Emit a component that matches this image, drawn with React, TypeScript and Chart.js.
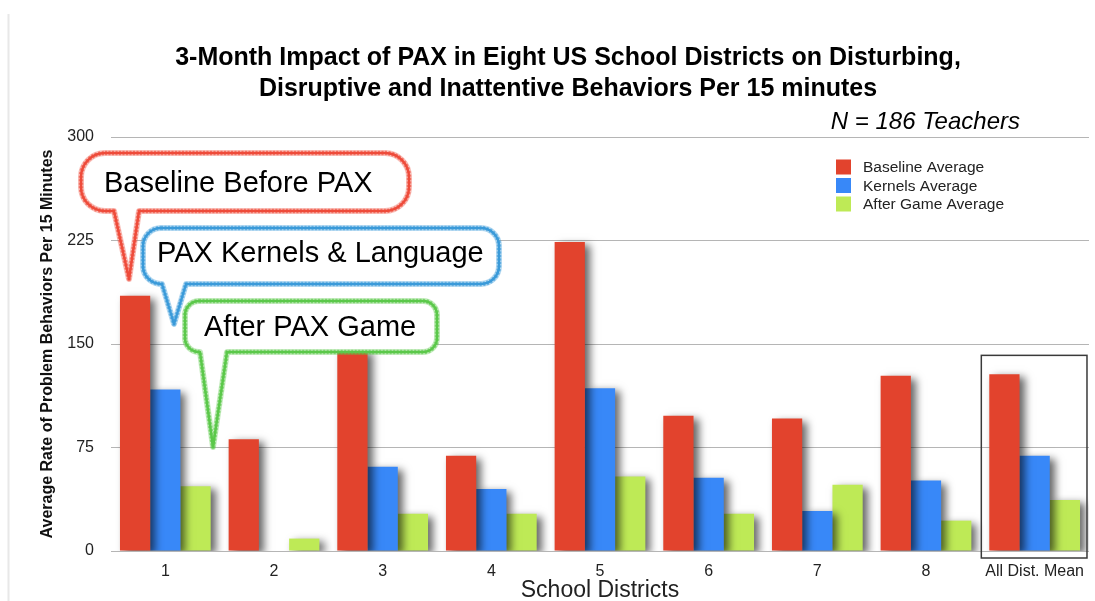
import React, { useEffect, useRef } from 'react';
import { Chart, registerables } from 'chart.js';

Chart.register(...registerables);

const FF = '"Liberation Sans", Arial, Helvetica, sans-serif';

const categories = ['1', '2', '3', '4', '5', '6', '7', '8', 'All Dist. Mean'];
const baselineAvg = [185, 81, 146, 69, 224, 98, 96, 127, 128];
const kernelsAvg = [117, 0, 61, 45, 118, 53, 29, 51, 69];
const afterGameAvg = [47, 9, 27, 27, 54, 27, 48, 22, 37];
const seriesNames = ['Baseline Average', 'Kernels Average', 'After Game Average'];
const seriesColors = ['#E2432D', '#3888F8', '#BEEA56'];
const yMin = 0;
const yMax = 300;
const yStep = 75;

const titleLines = [
  '3-Month Impact of PAX in Eight US School Districts on Disturbing,',
  'Disruptive and Inattentive Behaviors Per 15 minutes',
];
const subtitleText = 'N = 186 Teachers';
const yTitle = 'Average Rate of Problem Behaviors Per 15 Minutes';
const xTitle = 'School Districts';
const callouts = [
  { text: 'Baseline Before PAX', color: '#EE4B3A' },
  { text: 'PAX Kernels & Language', color: '#3A9AD9' },
  { text: 'After PAX Game', color: '#5BC84A' },
];

function bubblePath(
  ctx: CanvasRenderingContext2D,
  x1: number, y1: number, x2: number, y2: number, r: number,
  bl: number, br: number, tx: number, ty: number
) {
  ctx.beginPath();
  ctx.moveTo(x1 + r, y1);
  ctx.lineTo(x2 - r, y1);
  ctx.arcTo(x2, y1, x2, y1 + r, r);
  ctx.lineTo(x2, y2 - r);
  ctx.arcTo(x2, y2, x2 - r, y2, r);
  ctx.lineTo(br, y2);
  ctx.lineTo(tx, ty);
  ctx.lineTo(bl, y2);
  ctx.lineTo(x1 + r, y2);
  ctx.arcTo(x1, y2, x1, y2 - r, r);
  ctx.lineTo(x1, y1 + r);
  ctx.arcTo(x1, y1, x1 + r, y1, r);
  ctx.closePath();
}

function drawBubble(ctx: CanvasRenderingContext2D, geo: number[], color: string, text: string, tx: number, ty: number) {
  const [x1, y1, x2, y2, r, bl, br, px, py] = geo;
  ctx.save();
  bubblePath(ctx, x1, y1, x2, y2, r, bl, br, px, py);
  ctx.fillStyle = '#ffffff';
  ctx.fill();
  ctx.lineJoin = 'round';
  ctx.strokeStyle = color;
  ctx.globalAlpha = 0.35;
  ctx.lineWidth = 6;
  ctx.stroke();
  ctx.globalAlpha = 0.6;
  ctx.lineWidth = 4.5;
  ctx.setLineDash([2, 1.5]);
  ctx.stroke();
  ctx.setLineDash([]);
  ctx.globalAlpha = 1;
  ctx.lineWidth = 2.5;
  ctx.stroke();
  ctx.fillStyle = '#000';
  ctx.font = `29px ${FF}`;
  ctx.textAlign = 'left';
  ctx.textBaseline = 'alphabetic';
  ctx.fillText(text, tx, ty);
  ctx.restore();
}

const decorPlugin = {
  id: 'decor',
  beforeDatasetsDraw(chart: any) {
    const ctx = chart.ctx as CanvasRenderingContext2D;
    ctx.save();
    ctx.shadowColor = 'rgba(0,0,0,0.6)';
    ctx.shadowBlur = 8;
    ctx.shadowOffsetX = 5;
    ctx.shadowOffsetY = 3;
  },
  afterDatasetsDraw(chart: any) {
    const ctx = chart.ctx as CanvasRenderingContext2D;
    ctx.restore();
    const xs = chart.scales.x;
    const ys = chart.scales.y;

    // left frame line
    ctx.save();
    ctx.strokeStyle = '#e8e8e8';
    ctx.lineWidth = 2;
    ctx.beginPath();
    ctx.moveTo(8.5, 14);
    ctx.lineTo(8.5, 601);
    ctx.stroke();
    ctx.restore();

    // box around the mean group
    const last = categories.length - 1;
    const cw = xs.getPixelForValue(1) - xs.getPixelForValue(0);
    const cx = xs.getPixelForValue(last);
    const bx1 = cx - cw / 2 + 1;
    const bx2 = cx + cw / 2 - 2;
    const by1 = ys.getPixelForValue(baselineAvg[last]) - 19;
    const by2 = ys.getPixelForValue(0) + 7;
    ctx.save();
    ctx.strokeStyle = '#3a3a3a';
    ctx.lineWidth = 1.5;
    ctx.strokeRect(bx1, by1, bx2 - bx1, by2 - by1);
    ctx.restore();

    // titles
    ctx.save();
    ctx.fillStyle = '#000';
    ctx.textAlign = 'center';
    ctx.textBaseline = 'alphabetic';
    ctx.font = `bold 25px ${FF}`;
    ctx.fillText(titleLines[0], 568, 65);
    ctx.fillText(titleLines[1], 568, 96);
    ctx.font = `italic 24px ${FF}`;
    ctx.textAlign = 'right';
    ctx.fillText(subtitleText, 1020, 129);
    ctx.restore();

    // legend
    ctx.save();
    ctx.font = `15.5px ${FF}`;
    ctx.textAlign = 'left';
    ctx.textBaseline = 'middle';
    seriesNames.forEach((name, i) => {
      const cy = 167 + i * 18.5;
      ctx.fillStyle = seriesColors[i];
      ctx.fillRect(836, cy - 7.5, 15, 15);
      ctx.fillStyle = '#222';
      ctx.fillText(name, 863, cy + 1);
    });
    ctx.restore();

    // callouts
    drawBubble(ctx, [81, 153, 409, 211, 24, 114, 139, 129, 279], callouts[0].color, callouts[0].text, 104, 192);
    drawBubble(ctx, [143, 228, 499, 284, 18, 162, 186, 174, 324], callouts[1].color, callouts[1].text, 157, 262);
    drawBubble(ctx, [185, 301, 437, 352, 14, 200, 227, 213, 447], callouts[2].color, callouts[2].text, 204, 336);
  },
};

export default function App() {
  const ref = useRef<HTMLCanvasElement>(null);
  useEffect(() => {
    const canvas = ref.current;
    if (!canvas) return;
    Chart.defaults.font.family = FF;
    const chart = new Chart(canvas, {
      type: 'bar',
      data: {
        labels: categories,
        datasets: [
          { label: seriesNames[0], data: baselineAvg, backgroundColor: seriesColors[0], borderWidth: 0 },
          { label: seriesNames[1], data: kernelsAvg, backgroundColor: seriesColors[1], borderWidth: 0 },
          { label: seriesNames[2], data: afterGameAvg, backgroundColor: seriesColors[2], borderWidth: 0 },
        ],
      },
      options: {
        responsive: false,
        animation: false,
        devicePixelRatio: 1,
        layout: { padding: { left: 0, right: 0, top: 137, bottom: 0 } },
        datasets: { bar: { categoryPercentage: 0.835, barPercentage: 1 } },
        plugins: {
          legend: { display: false },
          title: { display: false },
          tooltip: { enabled: false },
        },
        scales: {
          x: {
            type: 'category',
            offset: true,
            grid: { display: false, drawTicks: false },
            border: { display: false },
            ticks: { font: { size: 16 }, color: '#222', padding: 11, maxRotation: 0, autoSkip: false },
            title: { display: true, text: xTitle, color: '#222', font: { size: 23, lineHeight: 0.8 }, padding: { top: 0, bottom: 1 } },
            afterFit: (s: any) => { s.height = 50; },
          },
          y: {
            min: yMin,
            max: yMax,
            ticks: { stepSize: yStep, font: { size: 16 }, color: '#222', padding: 17 },
            grid: { color: '#b5b5b5', drawTicks: false, lineWidth: 1 },
            border: { display: false },
            title: { display: true, text: yTitle, color: '#111', font: { size: 16, weight: 'bold', lineHeight: 1.2 }, padding: { top: 38, bottom: 0 } },
            afterFit: (s: any) => { s.width = 111; },
          },
        },
      },
      plugins: [decorPlugin],
    } as any);
    return () => chart.destroy();
  }, []);
  return (
    <div style={{ position: 'fixed', left: 0, top: 0, width: 1095, height: 601, background: '#fff' }}>
      <canvas ref={ref} width={1095} height={601} style={{ display: 'block', width: 1095, height: 601 }} />
    </div>
  );
}
